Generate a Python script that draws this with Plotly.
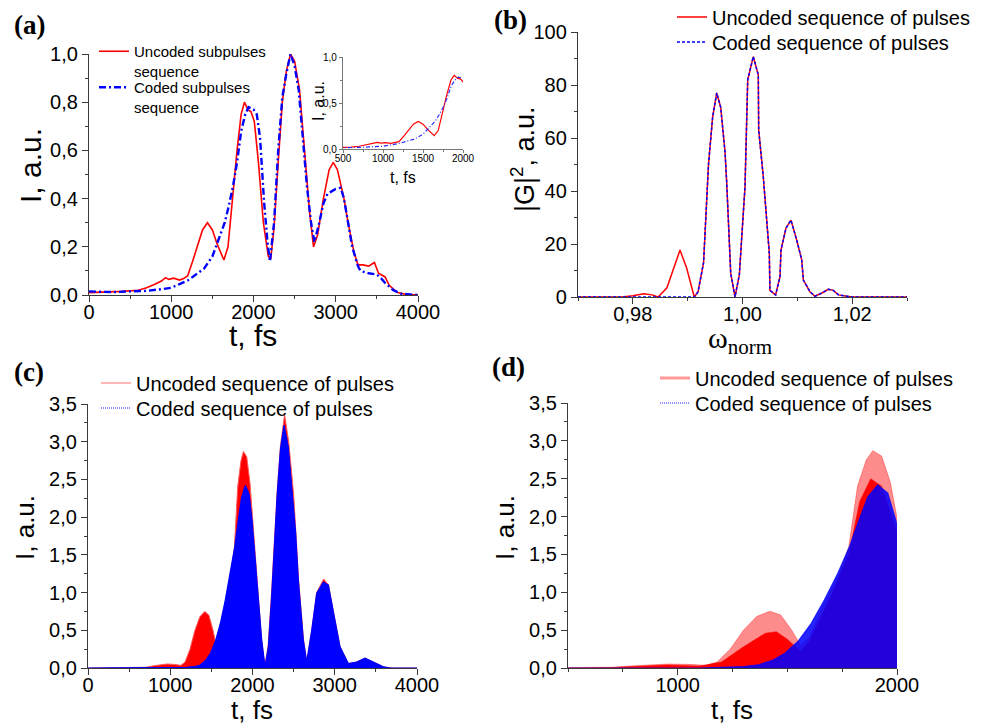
import plotly.graph_objects as go

# ---------------- data ----------------
# (a) normalized intensity, t in fs
A_T_RED = [0, 200, 400, 600, 700, 800, 880, 930, 970, 1030, 1100, 1150, 1200, 1260, 1320,
           1380, 1440, 1500, 1560, 1640, 1690, 1750, 1800, 1850, 1890, 1930, 1970, 2010, 2060, 2120,
           2180, 2210, 2250, 2300, 2350, 2400, 2450, 2500, 2560, 2620, 2680, 2730, 2780, 2850, 2920,
           2970, 3020, 3100, 3150, 3220, 3270, 3330, 3400, 3470, 3520, 3600, 3650, 3750, 3850, 4000]
A_RED = [0.01, 0.012, 0.015, 0.02, 0.03, 0.045, 0.058, 0.072, 0.065, 0.07, 0.062, 0.068, 0.08, 0.14, 0.21,
         0.27, 0.30, 0.27, 0.21, 0.145, 0.2, 0.42, 0.6, 0.75, 0.80, 0.77, 0.76, 0.72, 0.55, 0.3,
         0.16, 0.15, 0.28, 0.55, 0.8, 0.93, 1.0, 0.97, 0.85, 0.6, 0.35, 0.2, 0.25, 0.4, 0.52,
         0.55, 0.52, 0.4, 0.3, 0.18, 0.125, 0.125, 0.12, 0.135, 0.09, 0.075, 0.04, 0.01, 0.003, 0.0]
A_T_BLUE = [0, 300, 500, 700, 900, 1000, 1100, 1200, 1300, 1400, 1500, 1600, 1650, 1700, 1750,
            1800, 1850, 1900, 1940, 2000, 2040, 2080, 2130, 2170, 2200, 2250, 2300, 2350, 2400, 2450,
            2500, 2550, 2600, 2650, 2700, 2740, 2800, 2850, 2900, 3000, 3060, 3100, 3150, 3200, 3270,
            3300, 3400, 3500, 3550, 3600, 3700, 3800, 4000]
A_BLUE = [0.015, 0.012, 0.015, 0.017, 0.025, 0.03, 0.045, 0.06, 0.085, 0.11, 0.16, 0.25, 0.3, 0.37, 0.45,
          0.55, 0.68, 0.75, 0.78, 0.77, 0.75, 0.65, 0.38, 0.22, 0.14, 0.3, 0.6, 0.82, 0.92, 1.0,
          0.95, 0.85, 0.65, 0.45, 0.3, 0.22, 0.3, 0.38, 0.42, 0.44, 0.445, 0.4, 0.3, 0.2, 0.12,
          0.1, 0.09, 0.085, 0.07, 0.05, 0.02, 0.005, 0.0]

# (b) spectrum |G|^2 vs normalized frequency
B_W = [0.970, 0.978, 0.980, 0.982, 0.9835, 0.9846, 0.9862, 0.9875, 0.9886, 0.9898,
       0.9912, 0.9919, 0.9929, 0.9938, 0.99456, 0.9953, 0.99602, 0.99681, 0.9971, 0.99785,
       0.99863, 0.99942, 1.00046, 1.00095, 1.00197, 1.00288, 1.00295, 1.00379, 1.00489, 1.005,
       1.00604, 1.00684, 1.00702, 1.00793, 1.00884, 1.00988, 1.0108, 1.0111, 1.0123, 1.0132,
       1.0145, 1.01565, 1.01656, 1.0175, 1.0199, 1.03]
B_RED = [0, 0, 0.5, 1.2, 0.8, 0, 3.4, 11, 17.7, 11,
         0, 2, 13, 50, 68, 77, 71.6, 54.8, 44, 9,
         0, 8.3, 41.6, 82, 90.7, 83.8, 63, 45.4, 16.5, 2.5,
         0.8, 7.7, 17.7, 26, 29, 21.5, 14, 6.4, 2, 0.3,
         1.5, 2.9, 2.5, 0.8, 0, 0]
B_BLUE = [0, 0, 0, 0, 0, 0, 0, 0, 0, 0,
          0, 2, 13, 50, 68, 77, 71.6, 54.8, 44, 9,
          0, 8.3, 41.6, 82, 90.7, 83.8, 63, 45.4, 16.5, 2.5,
          0.8, 7.7, 17.7, 26, 29, 21.5, 14, 6.4, 2, 0.3,
          1.5, 2.9, 2.5, 0.8, 0, 0]

# (c),(d) envelopes of the fast-oscillating intensity, t in fs
C_T_RED = [0, 600, 700, 800, 880, 960, 1050, 1130, 1180, 1240, 1300, 1360, 1420, 1470, 1520,
           1560, 1600, 1660, 1730, 1780, 1820, 1860, 1890, 1930, 1970, 2000, 2050, 2110, 2150, 2190,
           2230, 2270, 2300, 2340, 2390, 2440, 2500, 2525, 2560, 2620, 2660, 2720, 2780, 2865, 2925,
           2985, 3065, 3165, 3270, 3370, 3465, 3590, 3700, 4000]
C_RED = [0, 0.003, 0.01, 0.03, 0.045, 0.053, 0.048, 0.035, 0.08, 0.25, 0.5, 0.68, 0.75, 0.7, 0.5,
         0.3, 0.4, 0.8, 1.2, 1.6, 2.4, 2.75, 2.87, 2.8, 2.45, 2.0, 1.2, 0.38, 0.03, 0.3,
         0.97, 1.75, 2.35, 2.95, 3.36, 3.0, 2.3, 1.85, 1.18, 0.38, 0.08, 0.5, 1.0, 1.18, 1.1,
         0.74, 0.28, 0.06, 0.08, 0.13, 0.08, 0.015, 0, 0]
C_T_BLUE = [0, 1100, 1200, 1300, 1365, 1430, 1487, 1548, 1609, 1669, 1730, 1783, 1821, 1867, 1912,
            1958, 1995, 2051, 2112, 2152, 2193, 2233, 2274, 2300, 2340, 2383, 2435, 2496, 2524, 2557,
            2618, 2659, 2720, 2780, 2861, 2922, 2983, 3064, 3165, 3267, 3368, 3465, 3591, 3680, 4000]
C_BLUE = [0, 0, 0.01, 0.02, 0.04, 0.1, 0.19, 0.35, 0.59, 0.9, 1.25, 1.6, 1.91, 2.26, 2.42,
          2.31, 1.95, 1.17, 0.37, 0.02, 0.28, 0.95, 1.75, 2.3, 2.9, 3.22, 2.93, 2.2, 1.8, 1.17,
          0.37, 0.08, 0.5, 0.99, 1.14, 1.1, 0.73, 0.28, 0.06, 0.08, 0.13, 0.08, 0.015, 0, 0]
D_T_CORE = [500, 700, 800, 950, 1100, 1200, 1300, 1400, 1450, 1500, 1560, 1600, 1700, 1780, 1830, 1880, 1930, 2000]
D_RED_CORE = [0, 0.005, 0.02, 0.04, 0.025, 0.08, 0.28, 0.46, 0.48, 0.38, 0.22, 0.35, 0.95, 1.5, 2.2, 2.5, 2.4, 1.8]

# tick labels
A_XTICKS = [0, 1000, 2000, 3000, 4000]
A_XTEXT = ["0", "1000", "2000", "3000", "4000"]
A_YTICKS = [0, 0.2, 0.4, 0.6, 0.8, 1.0]
A_YTEXT = ["0,0", "0,2", "0,4", "0,6", "0,8", "1,0"]
IN_XTICKS = [500, 1000, 1500, 2000]
IN_XTEXT = ["500", "1000", "1500", "2000"]
IN_YTICKS = [0, 0.5, 1.0]
IN_YTEXT = ["0,0", "0,5", "1,0"]
B_XTICKS = [0.98, 1.00, 1.02]
B_XTEXT = ["0,98", "1,00", "1,02"]
B_YTICKS = [0, 20, 40, 60, 80, 100]
B_YTEXT = ["0", "20", "40", "60", "80", "100"]
C_XTICKS = [0, 1000, 2000, 3000, 4000]
C_XTEXT = ["0", "1000", "2000", "3000", "4000"]
CD_YTICKS = [0, 0.5, 1.0, 1.5, 2.0, 2.5, 3.0, 3.5]
CD_YTEXT = ["0,0", "0,5", "1,0", "1,5", "2,0", "2,5", "3,0", "3,5"]
D_XTICKS = [1000, 2000]
D_XTEXT = ["1000", "2000"]

# ---------------- helpers (layout only) ----------------
W, H = 982, 724
def fx(p):
    return p / W
def fy(p):
    return 1 - p / H

AXC = '#3a3a3a'
SANS = 'Liberation Sans'
SERIF = 'Liberation Serif'

def axis(domain, rng, tickvals, ticktext, minor_vals, anchor, size=20, ticklen=6, lc=AXC, standoff=0):
    return dict(domain=domain, range=rng, anchor=anchor, showline=True, linecolor=lc, linewidth=1.3,
                ticks='outside', ticklen=ticklen, tickwidth=1.3, tickcolor=lc,
                tickmode='array', tickvals=tickvals, ticktext=ticktext,
                minor=dict(ticks='outside', ticklen=max(2, ticklen * 0.55), tickwidth=1.1, tickcolor=lc,
                           tickmode='array', tickvals=minor_vals, showgrid=False),
                showgrid=False, zeroline=False, ticklabelstandoff=standoff, automargin=False,
                tickfont=dict(family=SANS, size=size, color='black'))

fig = go.Figure()

RED = 'rgb(255,0,0)'
BLUE = 'rgb(0,0,255)'

# (a)
fig.add_trace(go.Scatter(x=A_T_RED, y=A_RED, mode='lines', line=dict(color=RED, width=1.6),
                         name='Uncoded subpulses<br>sequence', xaxis='x', yaxis='y', legend='legend'))
fig.add_trace(go.Scatter(x=A_T_BLUE, y=A_BLUE, mode='lines',
                         line=dict(color=BLUE, width=2.4, dash='7px,3px,2px,3px'),
                         name='Coded subpulses<br>sequence', xaxis='x', yaxis='y', legend='legend2'))
# inset
fig.add_trace(go.Scatter(x=A_T_RED, y=A_RED, mode='lines', line=dict(color=RED, width=1.2),
                         showlegend=False, xaxis='x5', yaxis='y5'))
fig.add_trace(go.Scatter(x=A_T_BLUE, y=A_BLUE, mode='lines',
                         line=dict(color='rgb(40,40,255)', width=1.2, dash='4px,2px,1px,2px'),
                         showlegend=False, xaxis='x5', yaxis='y5'))

# (b)
fig.add_trace(go.Scatter(x=B_W, y=B_RED, mode='lines', line=dict(color=RED, width=1.5),
                         name='Uncoded sequence of pulses', xaxis='x2', yaxis='y2', legend='legend3'))
fig.add_trace(go.Scatter(x=B_W, y=B_BLUE, mode='lines', line=dict(color=BLUE, width=1.5, dash='3px,2px'),
                         name='Coded sequence of pulses', xaxis='x2', yaxis='y2', legend='legend4'))

# (c)
fig.add_trace(go.Scatter(x=C_T_RED, y=C_RED, mode='lines', fill='tozeroy', fillcolor=RED,
                         line=dict(color='rgb(255,90,90)', width=1), showlegend=False, xaxis='x3', yaxis='y3'))
fig.add_trace(go.Scatter(x=C_T_BLUE, y=C_BLUE, mode='lines', fill='tozeroy', fillcolor=BLUE,
                         line=dict(color=BLUE, width=1.2), showlegend=False, xaxis='x3', yaxis='y3'))
fig.add_trace(go.Scatter(x=[None], y=[None], mode='lines', line=dict(color='rgb(255,110,110)', width=1),
                         name='Uncoded sequence of pulses', xaxis='x3', yaxis='y3', legend='legend5'))
fig.add_trace(go.Scatter(x=[None], y=[None], mode='lines', line=dict(color='rgb(30,30,255)', width=1, dash='1px,1px'),
                         name='Coded sequence of pulses', xaxis='x3', yaxis='y3', legend='legend6'))

# (d)
fig.add_trace(go.Scatter(x=C_T_RED, y=C_RED, mode='lines', fill='tozeroy', fillcolor='rgba(255,0,0,0.45)',
                         line=dict(color='rgba(255,0,0,0.35)', width=1), showlegend=False, xaxis='x4', yaxis='y4'))
fig.add_trace(go.Scatter(x=D_T_CORE, y=D_RED_CORE, mode='lines', fill='tozeroy', fillcolor=RED,
                         line=dict(color=RED, width=0.5), showlegend=False, xaxis='x4', yaxis='y4'))
fig.add_trace(go.Scatter(x=C_T_BLUE, y=C_BLUE, mode='lines', fill='tozeroy', fillcolor='rgba(0,0,255,0.86)',
                         line=dict(color='rgba(0,0,255,0.7)', width=1.2), showlegend=False, xaxis='x4', yaxis='y4'))
fig.add_trace(go.Scatter(x=[None], y=[None], mode='lines', line=dict(color='rgba(255,0,0,0.4)', width=3),
                         name='Uncoded sequence of pulses', xaxis='x4', yaxis='y4', legend='legend7'))
fig.add_trace(go.Scatter(x=[None], y=[None], mode='lines', line=dict(color='rgb(30,30,255)', width=1, dash='1px,1px'),
                         name='Coded sequence of pulses', xaxis='x4', yaxis='y4', legend='legend8'))

def leg(x, y, size, yanchor='middle', valign='middle'):
    return dict(x=fx(x), y=fy(y), xanchor='left', yanchor=yanchor, xref='paper', yref='paper',
                bgcolor='rgba(0,0,0,0)', borderwidth=0, itemwidth=30, valign=valign,
                tracegroupgap=0, font=dict(family=SANS, size=size, color='black'))

XS = -7
layout = dict(
    width=W, height=H, margin=dict(l=0, r=0, t=0, b=0, pad=0, autoexpand=False),
    paper_bgcolor='white', plot_bgcolor='white', showlegend=True,
    xaxis=axis([fx(89), fx(418)], [0, 4000], A_XTICKS, A_XTEXT, [500, 1500, 2500, 3500], 'y', standoff=XS),
    yaxis=axis([fy(295), fy(54)], [0, 1.0], A_YTICKS, A_YTEXT, [0.1, 0.3, 0.5, 0.7, 0.9], 'x'),
    xaxis2=axis([fx(578), fx(907)], [0.97, 1.03], B_XTICKS, B_XTEXT, [0.97, 0.99, 1.01, 1.03], 'y2', standoff=XS),
    yaxis2=axis([fy(297), fy(32)], [0, 100], B_YTICKS, B_YTEXT, [10, 30, 50, 70, 90], 'x2'),
    xaxis3=axis([fx(88), fx(417)], [0, 4000], C_XTICKS, C_XTEXT, [500, 1500, 2500, 3500], 'y3', standoff=XS),
    yaxis3=axis([fy(668), fy(404)], [0, 3.5], CD_YTICKS, CD_YTEXT, [0.25, 0.75, 1.25, 1.75, 2.25, 2.75, 3.25], 'x3'),
    xaxis4=axis([fx(568), fx(897)], [500, 2000], D_XTICKS, D_XTEXT, [500, 750, 1250, 1500, 1750], 'y4', standoff=XS),
    yaxis4=axis([fy(668), fy(403)], [0, 3.5], CD_YTICKS, CD_YTEXT, [0.25, 0.75, 1.25, 1.75, 2.25, 2.75, 3.25], 'x4'),
    xaxis5=axis([fx(343), fx(463)], [500, 2000], IN_XTICKS, IN_XTEXT, [750, 1250, 1750], 'y5', size=10, ticklen=3, lc='#777777', standoff=-3),
    yaxis5=axis([fy(149), fy(57)], [0, 1.0], IN_YTICKS, IN_YTEXT, [0.25, 0.75], 'x5', size=10, ticklen=3, lc='#777777'),
    legend=leg(94, 35, 15, yanchor='top', valign='top'),
    legend2=leg(94, 71, 15, yanchor='top', valign='top'),
    legend3=leg(672, 17, 20),
    legend4=leg(672, 42, 20),
    legend5=leg(96, 383, 20),
    legend6=leg(96, 408, 20),
    legend7=leg(655, 378, 20),
    legend8=leg(655, 403, 20),
)
fig.update_layout(**layout)

def note(text, x, y, size, family=SANS, angle=0):
    fig.add_annotation(text=text, x=fx(x), y=fy(y), xref='paper', yref='paper', showarrow=False,
                       xanchor='center', yanchor='middle', textangle=angle,
                       font=dict(family=family, size=size, color='black'))

# panel labels
note('<b>(a)</b>', 29, 25, 27, SERIF)
note('<b>(b)</b>', 510, 20, 27, SERIF)
note('<b>(c)</b>', 29, 372, 27, SERIF)
note('<b>(d)</b>', 508, 367, 27, SERIF)
# axis titles
note('I, a.u.', 30, 166, 30, angle=-90)
note('t, fs', 253, 336, 30)
note('|G|<sup>2</sup>, a.u.', 523, 159, 27, angle=-90)
note('ω<sub>norm</sub>', 740, 340, 30, SERIF)
note('I, a.u.', 25, 528, 26, angle=-90)
note('t, fs', 252, 710, 26)
note('I, a.u.', 505, 528, 26, angle=-90)
note('t, fs', 732, 710, 26)
note('I, a.u.', 318, 101, 16, angle=-90)
note('t, fs', 403, 177, 16)

fig.write_html("out.html")
